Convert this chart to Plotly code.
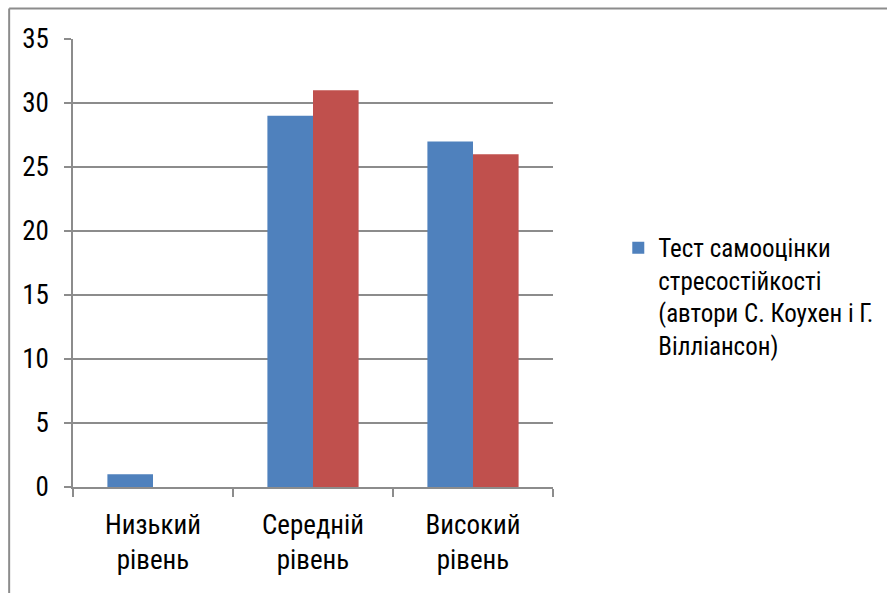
import plotly.graph_objects as go

categories = ['Низький<br>рівень', 'Середній<br>рівень', 'Високий<br>рівень']
series1_name = 'Тест самооцінки<br>стресостійкості<br>(автори С. Коухен і Г.<br>Вілліансон)'
series1 = [1, 29, 27]
series2 = [0, 31, 26]
yticks = [0, 5, 10, 15, 20, 25, 30, 35]

font = 'Liberation Sans Narrow, Roboto Condensed, Roboto, sans-serif'
grid = '#8c8c8c'
frame = dict(color='#8c8c8c', width=2)

fig = go.Figure()
fig.add_trace(go.Bar(x=categories, y=series1, name=series1_name,
                     marker=dict(color='#4F81BD', line=dict(width=0))))
fig.add_trace(go.Bar(x=categories, y=series2, name='', showlegend=False,
                     marker=dict(color='#C0504D', line=dict(width=0))))

fig.update_layout(
    width=887, height=593,
    margin=dict(l=73, r=334, t=39, b=106, autoexpand=False),
    paper_bgcolor='white', plot_bgcolor='white',
    barmode='group', bargap=0.43, bargroupgap=0,
    font=dict(family=font, size=27, color='black'),
    legend=dict(x=1.136, y=0.585, xanchor='left', yanchor='top', valign='top',
                font=dict(size=25), itemwidth=30),
    xaxis=dict(showline=True, linecolor=grid, linewidth=1.5,
               ticks='outside', tickson='boundaries', ticklen=8, tickcolor=grid,
               tickwidth=1.5, showgrid=False, ticklabelstandoff=13),
    yaxis=dict(range=[0, 35], tickvals=yticks, showline=True, linecolor=grid,
               linewidth=1.5, ticks='outside', ticklen=7, tickcolor=grid,
               tickwidth=1.5, showgrid=True, gridcolor=grid, gridwidth=1.5,
               zeroline=False, ticklabelstandoff=10),
    # outer chart frame (top and left edges; the rest falls outside the picture)
    shapes=[dict(type='line', xref='paper', yref='paper',
                 x0=-0.133, x1=-0.133, y0=-0.3, y1=1.068, line=frame),
            dict(type='line', xref='paper', yref='paper',
                 x0=-0.133, x1=1.7, y0=1.068, y1=1.068, line=frame)],
)

# drop the browser's default 8px body margin so the figure sits at 0,0
fig.write_html('out.html', config={'displayModeBar': False},
               post_script="document.body.style.margin='0';")
